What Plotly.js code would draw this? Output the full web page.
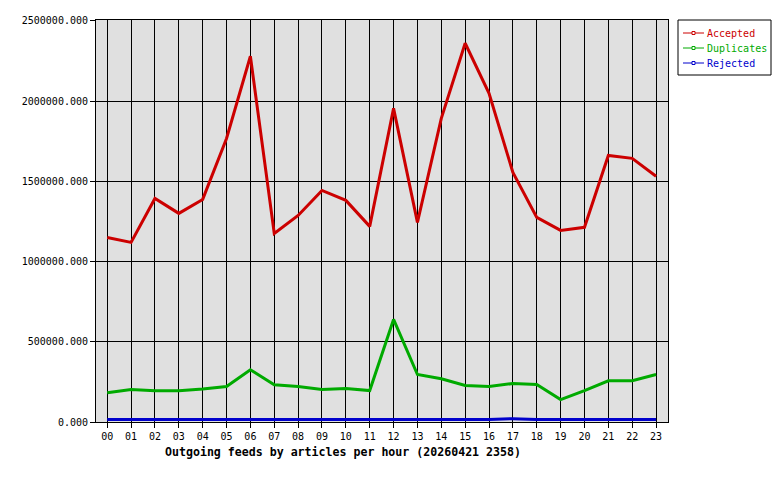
<!DOCTYPE html>
<html><head><meta charset="utf-8">
<script src="https://cdn.plot.ly/plotly-3.0.1.min.js"></script>
<style>html,body{margin:0;padding:0;background:#fff}</style>
</head><body><div id="c" style="width:780px;height:480px"></div>
<script>
const hours = ['00','01','02','03','04','05','06','07','08','09','10','11','12','13','14','15','16','17','18','19','20','21','22','23'];
const accepted = [1150000,1119000,1393000,1300000,1387000,1767000,2279000,1175000,1287000,1443000,1381000,1219000,1954000,1244000,1892000,2360000,2048000,1555000,1275000,1194000,1213000,1661000,1643000,1531000];
const duplicates = [182000,203000,194000,194000,205000,221000,325000,232000,221000,203000,209000,196000,639000,296000,269000,228000,221000,240000,234000,140000,196000,257000,257000,296000];
const rejected = [15000,15000,15000,15000,15000,15000,15000,15000,15000,15000,15000,15000,15000,15000,15000,15000,15000,21000,15000,15000,15000,15000,15000,15000];
const seriesNames = ['Accepted','Duplicates','Rejected'];
const seriesColors = ['#cc0000','#00aa00','#0000cc'];
const yTicks = [0,500000,1000000,1500000,2000000,2500000];
const xTitle = 'Outgoing feeds by articles per hour (20260421 2358)';

const mono = '"DejaVu Sans Mono", "Liberation Mono", monospace';
const xs = hours.map((h,i)=>i);
const series = [accepted, duplicates, rejected];
const data = series.map((y,k)=>({x: xs, y: y, type:'scatter', mode:'lines', name: seriesNames[k],
  line:{color:seriesColors[k], width:3}, showlegend:false}));

// plot area in pixels: left 96, right 668, top 20, bottom 422
const L=96, R=668, T=20, B=422;
const px = v => (v-L)/(R-L);
const py = v => (B-v)/(B-T);
const shapes = [{type:'rect', xref:'paper', yref:'paper', x0:px(678), x1:px(771), y0:py(20), y1:py(75),
  line:{color:'#000', width:1}, fillcolor:'#fff'}];
const annotations = [{text:'<b>'+xTitle+'</b>', xref:'paper', yref:'paper', x:px(343), y:py(452),
    xanchor:'center', yanchor:'middle', showarrow:false, font:{family:mono, size:11.6, color:'#000'}}];
seriesNames.forEach((n,k)=>{
  const yy = 33 + k*15;
  shapes.push({type:'line', xref:'paper', yref:'paper', x0:px(683), x1:px(704), y0:py(yy), y1:py(yy),
    line:{color:seriesColors[k], width:1}});
  shapes.push({type:'rect', xref:'paper', yref:'paper', x0:px(692), x1:px(695), y0:py(yy-1.5), y1:py(yy+1.5),
    line:{color:seriesColors[k], width:1}, fillcolor:'#fff'});
  annotations.push({text:n, xref:'paper', yref:'paper', x:px(705), y:py(yy), xanchor:'left', yanchor:'middle',
    showarrow:false, font:{family:mono, size:10, color:seriesColors[k]}});
});

const layout = {
  width:780, height:480,
  margin:{l:L, r:780-R, t:T, b:480-B},
  paper_bgcolor:'#ffffff', plot_bgcolor:'#e0e0e0',
  font:{family:mono, size:10, color:'#000'},
  showlegend:false,
  xaxis:{range:[-0.47,23.5], tickmode:'array', tickvals:xs, ticktext:hours,
    showgrid:true, gridcolor:'#000', gridwidth:1, zeroline:false,
    ticks:'outside', ticklen:5, tickcolor:'#000', showline:true, linecolor:'#000', linewidth:1, mirror:true,
    tickfont:{family:mono, size:10}},
  yaxis:{range:[0,2505000], tickmode:'array', tickvals:yTicks, tickformat:'.3f',
    showgrid:true, gridcolor:'#000', gridwidth:1, zeroline:false,
    ticks:'outside', ticklen:5, tickcolor:'#000', showline:true, linecolor:'#000', linewidth:1, mirror:true,
    tickfont:{family:mono, size:10}},
  shapes: shapes,
  annotations: annotations
};
Plotly.newPlot('c', data, layout, {displayModeBar:false, staticPlot:true});
</script></body></html>
